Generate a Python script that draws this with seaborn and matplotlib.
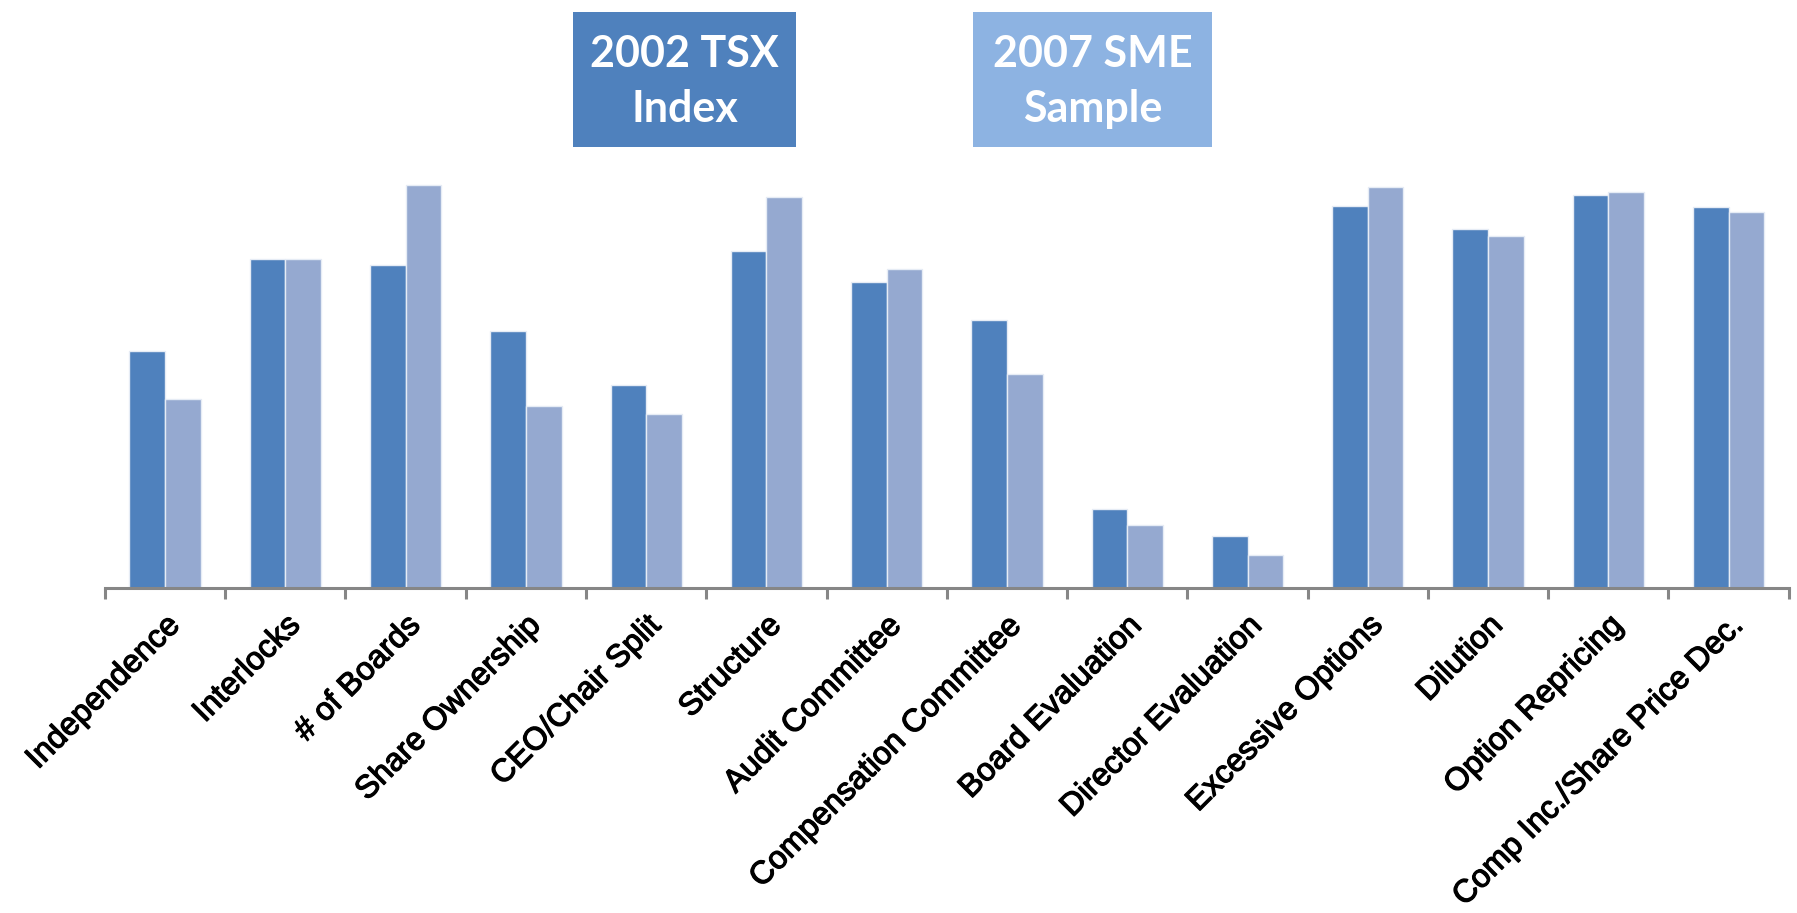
import matplotlib
matplotlib.use("Agg")
import matplotlib.pyplot as plt
import matplotlib.patheffects as pe
from matplotlib.patches import Rectangle
from matplotlib.ticker import FixedLocator
import seaborn as sns
import pandas as pd
import numpy as np

# Governance criteria and compliance scores for the two samples
categories = [
    "Independence", "Interlocks", "# of Boards", "Share Ownership",
    "CEO/Chair Split", "Structure", "Audit Committee", "Compensation Committee",
    "Board Evaluation", "Director Evaluation", "Excessive Options", "Dilution",
    "Option Repricing", "Comp Inc./Share Price Dec.",
]
tsx_2002 = [57.7, 80.1, 78.8, 62.7, 49.5, 82.2, 74.6, 65.4, 19.3, 12.7, 93.2, 87.6, 95.8, 92.9]
sme_2007 = [46.1, 80.1, 98.3, 44.3, 42.3, 95.4, 77.8, 52.2, 15.4, 8.0, 97.6, 85.8, 96.6, 91.7]
series_names = ["2002 TSX\nIndex", "2007 SME\nSample"]

bar_colors = ["#4F81BD", "#95A9D0"]
box_colors = ["#4F81BD", "#8DB3E2"]

df = pd.DataFrame({
    "category": categories * 2,
    "score": tsx_2002 + sme_2007,
    "series": [series_names[0]] * len(categories) + [series_names[1]] * len(categories),
})

sns.set_theme(style="white")
plt.rcParams["font.family"] = ["Liberation Sans", "DejaVu Sans"]

fig = plt.figure(figsize=(17.97, 9.13), dpi=100)
ax = fig.add_axes([0.0584, 0.356, 0.937, 0.48])

sns.barplot(
    data=df, x="category", y="score", hue="series",
    order=categories, hue_order=series_names,
    palette=bar_colors, width=0.593, gap=0,
    edgecolor="#E6ECF5", linewidth=1.0, saturation=1,
    legend=False, ax=ax,
)

ax.set_xlim(-0.5, len(categories) - 0.5)
ax.set_ylim(0, 106.8)
ax.set_xlabel("")
ax.set_ylabel("")
ax.set_yticks([])

for side in ["top", "right", "left"]:
    ax.spines[side].set_visible(False)
ax.spines["bottom"].set_color("#868686")
ax.spines["bottom"].set_linewidth(2.2)

# Category boundaries carry the tick marks; labels sit at the centres
ax.xaxis.set_minor_locator(FixedLocator(np.arange(-0.5, len(categories), 1.0)))
ax.tick_params(axis="x", which="minor", bottom=True, length=8, width=2.2,
               color="#868686", direction="out")
ax.tick_params(axis="x", which="major", bottom=True, length=0, pad=16)
ax.set_xticks(range(len(categories)))
ax.set_xticklabels(categories, rotation=45, ha="right", rotation_mode="anchor",
                   fontsize=23, color="black")
for lbl in ax.get_xticklabels():
    lbl.set_path_effects([pe.withStroke(linewidth=0.9, foreground="black")])

# Series captions as filled boxes above the plot
boxes = [(0.319, 0.124), (0.5415, 0.133)]
for (x0, w), name, col in zip(boxes, series_names, box_colors):
    fig.patches.append(Rectangle((x0, 0.839), w, 0.148, transform=fig.transFigure,
                                 facecolor=col, edgecolor="none", zorder=0))
    fig.text(x0 + w / 2, 0.911, name, ha="center", va="center", color="white",
             fontsize=31, fontweight="bold", family=["Lato", "DejaVu Sans"],
             linespacing=1.45)

fig.savefig("out.png", dpi=100, facecolor="white")
